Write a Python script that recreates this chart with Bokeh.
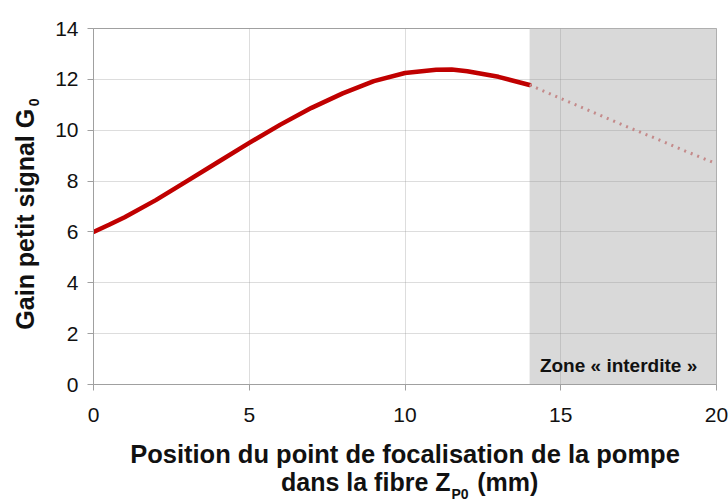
import math
from bokeh.plotting import figure
from bokeh.layouts import column, row
from bokeh.models import BoxAnnotation, Label, Range1d, FixedTicker
from bokeh.embed import file_html
from bokeh.resources import INLINE

# ---- data ----
x_solid = [0, 0.5, 1, 2, 3, 4, 5, 6, 7, 8, 9, 10, 11, 11.5, 12, 13, 14]
g_solid = [6.0, 6.28, 6.58, 7.25, 8.0, 8.75, 9.5, 10.22, 10.88, 11.45, 11.93, 12.25, 12.38, 12.39, 12.32, 12.1, 11.78]
x_dotted = [14, 15, 16, 17, 18, 19, 20]
g_dotted = [11.78, 11.25, 10.73, 10.2, 9.7, 9.18, 8.68]
zone_start = 14
zone_end = 20
x_ticks = [0, 5, 10, 15, 20]
y_ticks = [0, 2, 4, 6, 8, 10, 12, 14]
x_title_1 = "Position du point de focalisation de la pompe"
x_title_2 = ["dans la fibre Z", "P0", "(mm)"]
y_title = ["Gain petit signal G", "0"]
zone_text = "Zone « interdite  »"

FONT = "Liberation Sans"
YW = 50          # width of the y-title strip
MAIN_W, MAIN_H = 728 - YW, 430
XH = 502 - MAIN_H  # height of the x-title strip

# ---- main plot ----
p = figure(width=MAIN_W, height=MAIN_H, output_backend="svg", toolbar_location=None,
           x_range=Range1d(0, 20), y_range=Range1d(0, 14))
p.min_border_left = 93 - YW
p.min_border_right = 12
p.min_border_top = 28
p.min_border_bottom = MAIN_H - 384
p.background_fill_color = "white"
p.border_fill_color = "white"
p.outline_line_color = "#a0a0a0"

p.add_layout(BoxAnnotation(left=zone_start, right=zone_end, bottom=0, top=14,
                           fill_color="#d9d9d9", fill_alpha=1.0, line_color=None,
                           level="image"))

for ax in (p.xaxis, p.yaxis):
    ax.axis_line_color = "#a0a0a0"
    ax.major_tick_line_color = "#a0a0a0"
    ax.major_tick_out = 6
    ax.major_tick_in = 0
    ax.minor_tick_line_color = None
    ax.major_label_text_font = FONT
    ax.major_label_text_font_size = "21px"
    ax.major_label_text_color = "#111111"
p.xaxis.ticker = FixedTicker(ticks=x_ticks)
p.yaxis.ticker = FixedTicker(ticks=y_ticks)
p.xaxis.major_label_standoff = 17
p.yaxis.major_label_standoff = 9

p.grid.grid_line_color = "#909090"
p.grid.grid_line_alpha = 0.3
p.xgrid.ticker = FixedTicker(ticks=x_ticks)
p.ygrid.ticker = FixedTicker(ticks=y_ticks)

p.line(x_solid, g_solid, line_color="#c00000", line_width=4.5, line_join="round", line_cap="round")
p.line(x_dotted, g_dotted, line_color="#c48a8a", line_width=3, line_dash="2 5")

p.add_layout(Label(x=19.55, y=0.35, text=zone_text, text_font=FONT, text_font_size="19px",
                   text_font_style="bold", text_align="right", text_baseline="bottom",
                   text_color="#111111"))

def strip(w, h):
    f = figure(width=w, height=h, output_backend="svg", toolbar_location=None,
               x_range=Range1d(0, w), y_range=Range1d(0, h),
               x_axis_location=None, y_axis_location=None)
    f.min_border = 0
    f.min_border_left = f.min_border_right = f.min_border_top = f.min_border_bottom = 0
    f.outline_line_color = None
    f.grid.visible = False
    f.title.visible = False
    f.background_fill_color = "white"
    f.border_fill_color = "white"
    return f

def txt(f, x, y, s, size, align="left", angle=0.0):
    f.add_layout(Label(x=x, y=y, text=s, text_font=FONT, text_font_size=size,
                       text_font_style="bold", text_align=align, text_baseline="bottom",
                       angle=angle, text_color="#111111"))

# ---- y-title strip (anchors at the descent side of the text) ----
ys = strip(YW, MAIN_H)
txt(ys, 38.3, MAIN_H - 97, y_title[0], "25px", align="right", angle=math.pi / 2)
txt(ys, 38, MAIN_H - 94, y_title[1], "14px", align="left", angle=math.pi / 2)

# ---- x-title strip ----
xs = strip(728, XH)
txt(xs, 404.5, 502 - 467, x_title_1, "25.5px", align="center")
txt(xs, 450, 502 - 495.3, x_title_2[0], "25px", align="right")
txt(xs, 451, 502 - 501, x_title_2[1], "14px", align="left")
txt(xs, 476.7, 502 - 495.3, x_title_2[2], "25px", align="left")

layout = column(row(ys, p, spacing=0), xs, spacing=0)
open("out.html", "w").write(file_html(layout, INLINE))
